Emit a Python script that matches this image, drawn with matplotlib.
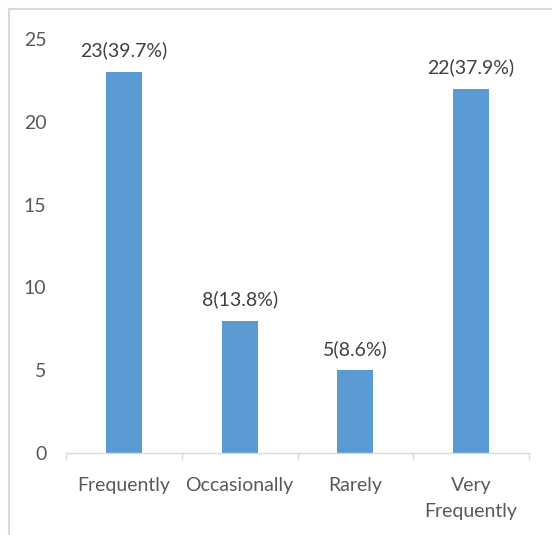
import matplotlib
matplotlib.use("Agg")
import matplotlib.pyplot as plt
from matplotlib.lines import Line2D

categories = ["Frequently", "Occasionally", "Rarely", "Very\nFrequently"]
counts = [23, 8, 5, 22]
labels = ["23(39.7%)", "8(13.8%)", "5(8.6%)", "22(37.9%)"]
yticks = [0, 5, 10, 15, 20, 25]

plt.rcParams['font.family'] = ['Lato', 'DejaVu Sans']

W, H = 552, 535
fig = plt.figure(figsize=(W / 100, H / 100), dpi=100)
ax = fig.add_axes([66 / W, 82 / H, 463 / W, 414 / H])

x = list(range(len(categories)))
ax.bar(x, counts, width=0.31, color="#5B9BD5", zorder=2)
for xi, c, lab in zip(x, counts, labels):
    ax.annotate(lab, (xi, c), xytext=(0, 9), textcoords="offset points",
                ha="center", va="bottom", fontsize=14, color="#404040")

ax.set_xlim(-0.5, 3.5)
ax.set_ylim(0, 25)
ax.set_yticks(yticks)
ax.set_xticks(x)
ax.set_xticklabels(categories, fontsize=14, color="#595959", linespacing=1.7)
ax.set_xticks([-0.5, 0.5, 1.5, 2.5, 3.5], minor=True)
ax.tick_params(axis="x", which="major", length=0, pad=17)
ax.tick_params(axis="x", which="minor", length=5, color="#d9d9d9", width=1)
ax.tick_params(axis="y", length=0, pad=14, labelsize=14, labelcolor="#595959")
for s in ["top", "right", "left"]:
    ax.spines[s].set_visible(False)
ax.spines["bottom"].set_color("#d9d9d9")
ax.spines["bottom"].set_linewidth(1)

# figure border (left and top edges visible)
fig.add_artist(Line2D([9 / W, 9 / W], [0, 1 - 9 / H], transform=fig.transFigure,
                      color="#d9d9d9", lw=1.5))
fig.add_artist(Line2D([9 / W, 1], [1 - 9 / H, 1 - 9 / H], transform=fig.transFigure,
                      color="#d9d9d9", lw=1.5))

fig.savefig("out.png", dpi=100)
